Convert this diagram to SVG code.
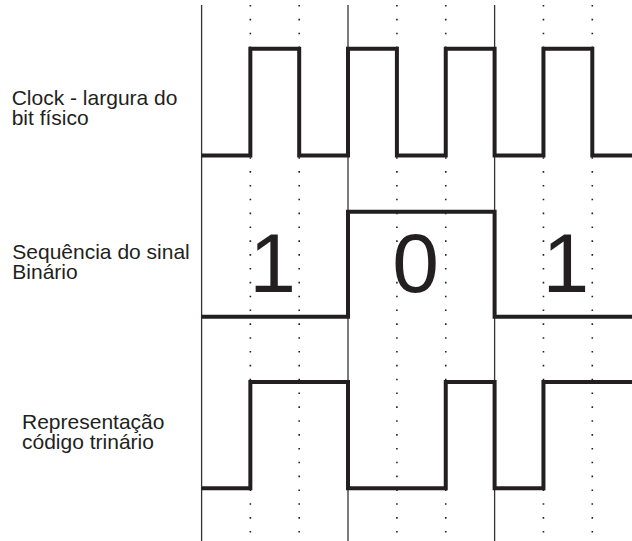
<svg xmlns="http://www.w3.org/2000/svg" width="632" height="541" viewBox="0 0 632 541">
  <style>
    .grid { stroke: #333333; stroke-width: 1.3; fill: none; }
    .dot { stroke: #231f20; stroke-width: 1.6; stroke-dasharray: 1.6 12.24; fill: none; }
    .sig { stroke: #231f20; stroke-width: 4; fill: none; stroke-linejoin: miter; stroke-linecap: butt; }
    .lbl { font-family: "Liberation Sans", Arial, sans-serif; font-size: 21px; fill: #231f20; }
    .bit { font-family: "Liberation Sans", Arial, sans-serif; font-size: 84px; fill: #231f20; text-anchor: middle; }
  </style>
  <rect width="632" height="541" fill="#ffffff"/>

  <g id="grid">
    <line class="grid" x1="201.6" y1="5" x2="201.6" y2="541"/>
    <line class="grid" x1="348" y1="5" x2="348" y2="541"/>
    <line class="grid" x1="494.6" y1="5" x2="494.6" y2="541"/>
    <line class="dot" x1="250.35" y1="5" x2="250.35" y2="541"/>
    <line class="dot" x1="299.2" y1="5" x2="299.2" y2="541"/>
    <line class="dot" x1="396.9" y1="5" x2="396.9" y2="541"/>
    <line class="dot" x1="445.75" y1="5" x2="445.75" y2="541"/>
    <line class="dot" x1="543.45" y1="5" x2="543.45" y2="541"/>
    <line class="dot" x1="592.3" y1="5" x2="592.3" y2="541"/>
  </g>

  <g id="clock-signal">
    <path class="sig" d="M201.6 155.5 H250.35 V48.8 H299.2 V155.5 H348 V48.8 H396.9 V155.5 H445.75 V48.8 H494.6 V155.5 H543.45 V48.8 H592.3 V155.5 H632"/>
  </g>

  <g id="binary-signal">
    <path class="sig" d="M201.6 316.7 H348 V211.7 H494.6 V316.7 H632"/>
  </g>

  <g id="ternary-signal">
    <path class="sig" d="M201.6 488.3 H250.35 V382 H348 V488.3 H445.75 V382 H494.6 V488.3 H543.45 V382 H632"/>
  </g>

  <g id="bits">
    <text class="bit" x="272.5" y="291.5">1</text>
    <text class="bit" x="415.7" y="292.3">0</text>
    <text class="bit" x="565.8" y="291.5">1</text>
  </g>

  <g id="label-clock">
    <text class="lbl" x="11.7" y="104.8">Clock - largura do</text>
    <text class="lbl" x="11.7" y="124.6">bit físico</text>
  </g>
  <g id="label-binary">
    <text class="lbl" x="12.3" y="259">Sequência do sinal</text>
    <text class="lbl" x="12.3" y="279">Binário</text>
  </g>
  <g id="label-ternary">
    <text class="lbl" x="22" y="429">Representação</text>
    <text class="lbl" x="22" y="449">código trinário</text>
  </g>
</svg>
